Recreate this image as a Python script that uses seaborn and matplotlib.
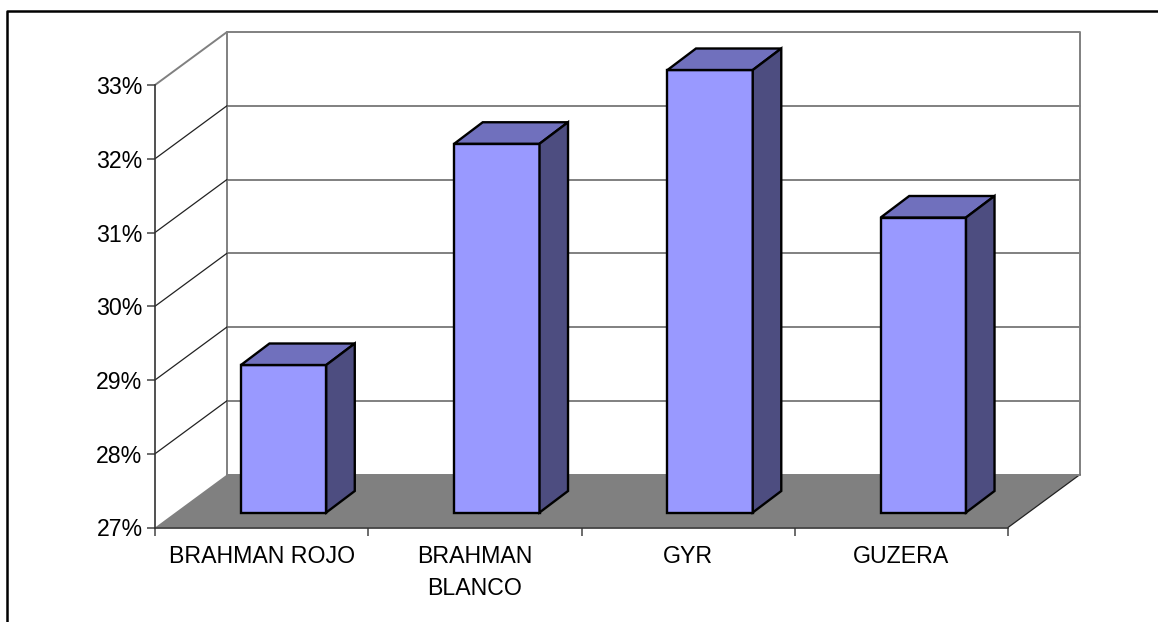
import matplotlib
matplotlib.use("Agg")
import matplotlib.pyplot as plt
import seaborn as sns
from matplotlib.patches import Polygon, Rectangle
from matplotlib.transforms import Affine2D

breeds = ["BRAHMAN ROJO", "BRAHMAN\nBLANCO", "GYR", "GUZERA"]
percent = [29, 32, 33, 31]
y_ticks = [27, 28, 29, 30, 31, 32, 33]

W, H = 1158, 622
sns.set_theme(style="white")
plt.rcParams["font.family"] = ["Liberation Sans", "DejaVu Sans"]

fig = plt.figure(figsize=(W / 100, H / 100), dpi=100, facecolor="white")
ax = fig.add_axes([155 / W, 1 - 527.5 / H, 853 / W, 442.5 / H])

base = y_ticks[0]
top = y_ticks[-1]
# Pixel scale of the front plane, used for the oblique depth offsets
x_unit = 853 / 4
y_unit = 442.5 / (top - base)
wall_dx, wall_dy = 72 / x_unit, 53 / y_unit
front_dx, front_dy = 22 / x_unit, 15 / y_unit
side_dx, side_dy = 28.5 / x_unit, 21.5 / y_unit

FRONT, TOP, SIDE = "#9999ff", "#7070bd", "#4d4d80"
GREY = "#808080"

sns.barplot(x=breeds, y=[v - base for v in percent], bottom=base, width=0.4,
            color=FRONT, saturation=1, edgecolor="black", linewidth=1.7,
            ax=ax, zorder=5)
ax.set_xlim(-0.5, 3.5)
ax.set_ylim(base, top)

# Floor and back walls of the box
x0, x1 = -0.5, 3.5
ax.add_patch(Polygon([(x0, base), (x1, base), (x1 + wall_dx, base + wall_dy),
                      (x0 + wall_dx, base + wall_dy)], closed=True,
                     facecolor=GREY, edgecolor="none", clip_on=False, zorder=1))
ax.plot([x0 + wall_dx, x0 + wall_dx, x1 + wall_dx, x1 + wall_dx],
        [base + wall_dy, top + wall_dy, top + wall_dy, base + wall_dy],
        color=GREY, lw=1.4, clip_on=False, zorder=2)
ax.plot([x0, x0 + wall_dx], [top, top + wall_dy], color=GREY, lw=1.4,
        clip_on=False, zorder=2)
ax.plot([x1, x1 + wall_dx], [base, base + wall_dy], color="#222222", lw=0.9,
        clip_on=False, zorder=2)
for t in y_ticks[:-1]:
    ax.plot([x0 + wall_dx, x1 + wall_dx], [t + wall_dy, t + wall_dy],
            color=GREY, lw=1.4, clip_on=False, zorder=2)
    if t > base:
        ax.plot([x0, x0 + wall_dx], [t, t + wall_dy], color="#222222", lw=0.9,
                clip_on=False, zorder=2)

# Shift each front face into the box and add its top and side faces
shift = Affine2D().translate(front_dx, front_dy) + ax.transData
for bar in ax.patches:
    if not isinstance(bar, Rectangle):
        continue
    bar.set_transform(shift)
    bar.set_clip_on(False)
    left, right = bar.get_x(), bar.get_x() + bar.get_width()
    low, high = bar.get_y(), bar.get_y() + bar.get_height()
    roof = [(left, high), (right, high), (right + side_dx, high + side_dy),
            (left + side_dx, high + side_dy)]
    flank = [(right, low), (right + side_dx, low + side_dy),
             (right + side_dx, high + side_dy), (right, high)]
    for pts, colour in ((roof, TOP), (flank, SIDE)):
        ax.add_patch(Polygon(pts, closed=True, facecolor=colour, edgecolor="black",
                             linewidth=1.7, joinstyle="miter", transform=shift,
                             clip_on=False, zorder=5))

# Axis lines, ticks and labels
sns.despine(ax=ax, top=True, right=True)
for side in ("left", "bottom"):
    ax.spines[side].set_color("#333333")
    ax.spines[side].set_linewidth(1.2)
    ax.spines[side].set_zorder(6)
ax.set_yticks(y_ticks)
ax.set_yticklabels([f"{t}%" for t in y_ticks])
ax.set_xticks([-0.5, 0.5, 1.5, 2.5, 3.5], minor=True)
ax.tick_params(axis="x", which="major", length=0, pad=12.5, labelsize=16.7, colors="black")
ax.tick_params(axis="x", which="minor", bottom=True, length=6, width=1.1, color="#444444")
ax.tick_params(axis="y", which="major", left=True, length=6, width=1.1, color="#444444",
               pad=3, labelsize=16.7, labelcolor="black")
ax.set_xlabel("")
ax.set_ylabel("")
for label in ax.get_xticklabels():
    label.set_verticalalignment("top")
    label.set_linespacing(1.5)

# Outer chart frame, open at the right and bottom edges of the canvas
fig.add_artist(plt.Line2D([7.5 / W, 7.5 / W, 1], [0, 1 - 10.5 / H, 1 - 10.5 / H],
                          color="black", lw=1.8, transform=fig.transFigure))

fig.savefig("out.png", dpi=100, facecolor="white")
